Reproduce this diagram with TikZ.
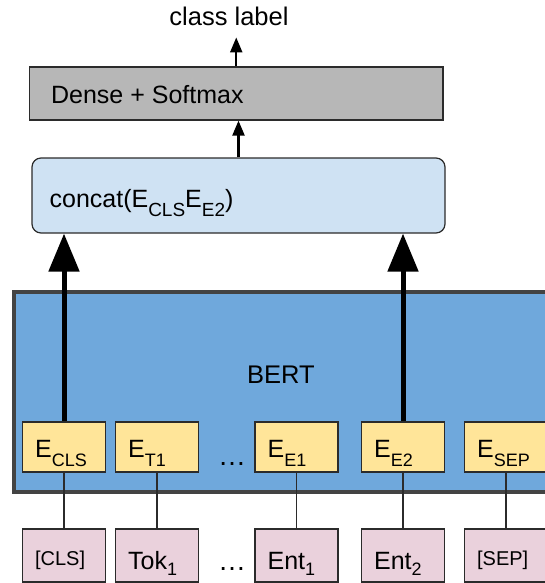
\documentclass[tikz,border=0pt]{standalone}
\usepackage{fontspec}
\setmainfont{Liberation Sans}
\usetikzlibrary{arrows.meta,calc}
\definecolor{densegray}{HTML}{B7B7B7}
\definecolor{concatblue}{HTML}{CFE2F3}
\definecolor{bertblue}{HTML}{6FA8DC}
\definecolor{bertedge}{HTML}{434343}
\definecolor{embyellow}{HTML}{FFE599}
\definecolor{tokpink}{HTML}{EAD1DC}
\definecolor{edgegray}{HTML}{2B2B2B}
% subscripts for embeddings, tokens and the concat label
\newcommand\esub[1]{\raisebox{-9pt}{\fontsize{18}{19}\selectfont #1}}
\newcommand\csub[1]{\raisebox{-9pt}{\fontsize{19}{20}\selectfont #1}}
\newcommand\tsub[1]{\raisebox{-6pt}{\fontsize{18}{19}\selectfont #1}}
\begin{document}
\begin{tikzpicture}[x=1pt,y=-1pt,
  box/.style={draw=edgegray, line width=1.2pt, inner sep=0pt},
  ebox/.style={box, fill=embyellow, minimum width=83pt, minimum height=50pt},
  tbox/.style={box, fill=tokpink, minimum width=83pt, minimum height=53pt},
  txt/.style={anchor=base west, inner sep=0pt, font=\fontsize{25}{28}\selectfont},
  smalltxt/.style={anchor=base west, inner sep=0pt, font=\fontsize{20}{22}\selectfont},
  thinarrow/.style={line width=2.2pt, -{Triangle[length=15pt,width=12pt]}},
  thickarrow/.style={line width=5pt, -{Triangle[length=38pt,width=30pt]}},
  link/.style={draw=edgegray, line width=1.1pt},
  dots/.style={inner sep=0pt, font=\fontsize{28}{30}\selectfont}]
\useasboundingbox (0,0) rectangle (545,583);
\clip (0,0) rectangle (545,583);

% output head
\node[box, fill=densegray, minimum width=413.5pt, minimum height=53pt] (dense) at (236.25,93.5) {};
\node[anchor=base west, inner sep=0pt, font=\fontsize{25}{30}\selectfont] (densetxt)
  at ($(dense.west)+(22,10.5)$) {Dense + Softmax};
\node[inner sep=0pt, font=\fontsize{25.5}{30}\selectfont, anchor=base] (lbl) at (229,26) {class label};

\node[box, fill=concatblue, rounded corners=9pt, minimum width=413pt, minimum height=75pt] (concat) at (238.5,195.5) {};
\node[txt] (concattxt) at ($(concat.west)+(18,11.5)$) {concat(E\csub{CLS}E\csub{E2})};

% encoder block
\node[draw=bertedge, line width=4pt, fill=bertblue, minimum width=586pt, minimum height=199.5pt, inner sep=0pt]
  (bert) at (307,391.75) {};
\node[inner sep=0pt, font=\fontsize{25.5}{30}\selectfont] (bertlbl) at (281,375) {BERT};

% output embeddings
\node[ebox] (ecls) at (64,447) {};
\node[ebox] (et1)  at (157,447) {};
\node[ebox] (ee1)  at (296.5,447) {};
\node[ebox] (ee2)  at (403,447) {};
\node[ebox] (esep) at (506,447) {};
\node[txt] (eclst) at ($(ecls.west)+(13,10)$) {E\esub{CLS}};
\node[txt] (et1t)  at ($(et1.west)+(13,10)$)  {E\esub{T1}};
\node[txt] (ee1t)  at ($(ee1.west)+(13,10)$)  {E\esub{E1}};
\node[txt] (ee2t)  at ($(ee2.west)+(13,10)$)  {E\esub{E2}};
\node[txt] (esept) at ($(esep.west)+(13,10)$) {E\esub{SEP}};
\node[dots, anchor=base] (edots) at (232,465) {…};

% input tokens
\node[tbox] (tcls) at (64,555.5) {};
\node[tbox] (ttok) at (157,555.5) {};
\node[tbox] (tent1) at (296.5,555.5) {};
\node[tbox] (tent2) at (403,555.5) {};
\node[tbox] (tsep) at (506,555.5) {};
\node[smalltxt] (tclst) at ($(tcls.west)+(13,9.5)$) {[CLS]};
\node[txt] (ttokt) at ($(ttok.west)+(13,14)$) {Tok\tsub{1}};
\node[txt] (tent1t) at ($(tent1.west)+(13,14)$) {Ent\tsub{1}};
\node[txt] (tent2t) at ($(tent2.west)+(13,14)$) {Ent\tsub{2}};
\node[smalltxt] (tsept) at ($(tsep.west)+(13,9.5)$) {[SEP]};
\node[dots, anchor=base] (tdots) at (232,570) {…};

% token-to-embedding links
\draw[link] (tcls.north) -- (ecls.south);
\draw[link] (ttok.north) -- (et1.south);
\draw[link] (tent1.north) -- (ee1.south);
\draw[link] (tent2.north) -- (ee2.south);
\draw[link] (tsep.north) -- (esep.south);

% arrows upward
\draw[thickarrow] (ecls.north) -- (ecls.north |- concat.south);
\draw[thickarrow] (ee2.north) -- (ee2.north |- concat.south);
\draw[thinarrow] (concat.north) -- (concat.north |- dense.south);
\draw[thinarrow] (dense.north) -- ([yshift=-11pt]dense.north |- lbl.south);
\end{tikzpicture}
\end{document}
